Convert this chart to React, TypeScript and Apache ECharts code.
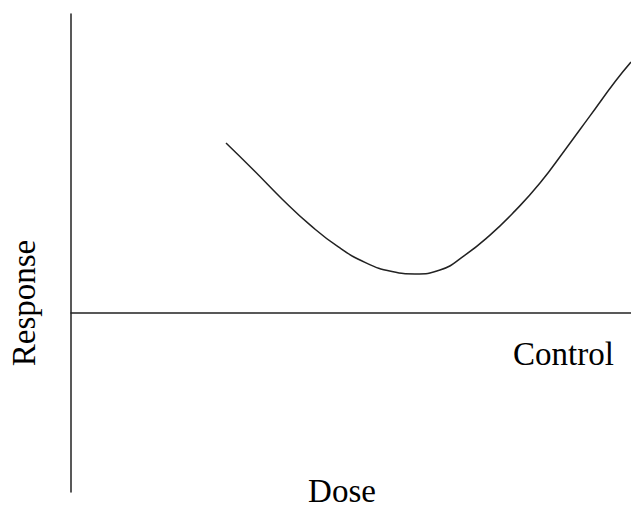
import React, { useEffect, useRef } from "react";
import * as echarts from "echarts";

const doseValues = [27.68, 32.68, 37.68, 42.68, 47.68, 52.68, 57.32, 61.43, 65.89, 70.36, 74.82, 79.29, 83.75, 88.21, 92.68, 97.14, 100];
const responseValues = [5.68, 4.76, 3.81, 2.94, 2.21, 1.67, 1.38, 1.3, 1.43, 1.93, 2.6, 3.41, 4.34, 5.45, 6.59, 7.73, 8.39];
const xLabel = "Dose";
const yLabel = "Response";
const controlLabel = "Control";

export default function App() {
  const ref = useRef<HTMLDivElement>(null);
  useEffect(() => {
    document.body.style.margin = "0";
    if (!ref.current) return;
    const chart = echarts.init(ref.current, undefined, { renderer: "svg" });
    const textStyle = {
      fontFamily: "'Times New Roman', 'Liberation Serif', 'DejaVu Serif', serif",
      fontSize: 33,
      fill: "#000",
    };
    chart.setOption({
      animation: false,
      backgroundColor: "#ffffff",
      grid: { left: 71, right: 0, top: 14, bottom: 16 },
      xAxis: {
        type: "value",
        min: 0,
        max: 100,
        axisLine: { show: true, onZero: true, lineStyle: { color: "#222", width: 1.5 } },
        axisTick: { show: false },
        axisLabel: { show: false },
        splitLine: { show: false },
      },
      yAxis: {
        type: "value",
        min: -6,
        max: 10,
        axisLine: { show: true, onZero: false, lineStyle: { color: "#222", width: 1.5 } },
        axisTick: { show: false },
        axisLabel: { show: false },
        splitLine: { show: false },
      },
      series: [
        {
          type: "line",
          data: doseValues.map((d, i) => [d, responseValues[i]]),
          smooth: 0.5,
          showSymbol: false,
          lineStyle: { color: "#222", width: 1.5 },
        },
      ],
      graphic: [
        {
          type: "text",
          x: 24,
          y: 303,
          rotation: Math.PI / 2,
          style: { ...textStyle, text: yLabel, textAlign: "center", textVerticalAlign: "middle" },
        },
        {
          type: "text",
          x: 342,
          y: 491,
          style: { ...textStyle, text: xLabel, textAlign: "center", textVerticalAlign: "middle" },
        },
        {
          type: "text",
          x: 513,
          y: 354,
          style: { ...textStyle, text: controlLabel, textAlign: "left", textVerticalAlign: "middle" },
        },
      ],
    });
    return () => chart.dispose();
  }, []);
  return <div ref={ref} style={{ width: 631, height: 508 }} />;
}
